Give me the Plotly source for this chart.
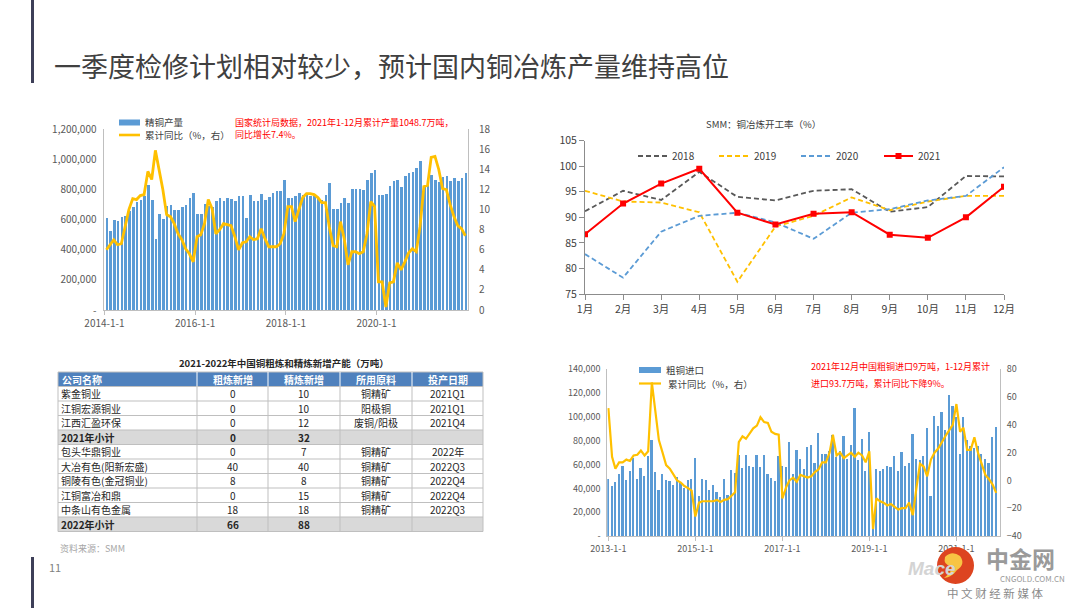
import plotly.graph_objects as go
import pandas as pd

W, H = 1080, 608
def fx(p): return p / W
def fy(p): return 1 - p / H

CJK = "Noto Sans CJK SC"
TXT = "#595959"

# ---------------- Chart 1: refined copper output (t) & cumulative YoY (%) ----------------
refined_months = pd.date_range("2014-01-01", "2021-12-01", freq="MS")
refined_2014 = [609, 520, 598, 587, 615, 624, 653, 682, 715, 731, 753, 830]
refined_2015 = [731, 469, 638, 604, 690, 697, 662, 664, 680, 697, 742, 775]
refined_2016 = [638, 638, 704, 691, 682, 724, 742, 720, 742, 737, 720, 753]
refined_2017 = [757, 610, 764, 724, 724, 766, 731, 748, 775, 786, 786, 863]
refined_2018 = [742, 742, 753, 775, 764, 764, 753, 753, 742, 731, 764, 841]
refined_2019 = [669, 669, 708, 742, 708, 801, 801, 801, 797, 863, 908, 930]
refined_2020 = [764, 764, 770, 819, 852, 859, 815, 890, 908, 912, 941, 985]
refined_2021 = [820, 868, 897, 863, 846, 881, 886, 852, 875, 852, 875, 908]
refined_output_kt = (refined_2014 + refined_2015 + refined_2016 + refined_2017 +
                     refined_2018 + refined_2019 + refined_2020 + refined_2021)
refined_output = [v * 1000 for v in refined_output_kt]

refined_yoy_2014 = [6.0, 6.5, 7.0, 6.5, 6.6, 8.3, 10.0, 11.1, 11.0, 11.4, 11.5, 13.8]
refined_yoy_2015 = [13.0, 15.9, 14.1, 12.0, 9.5, 9.3, 8.6, 7.6, 7.0, 6.1, 5.6, 4.8]
refined_yoy_2016 = [7.3, 7.5, 8.6, 11.0, 10.1, 7.6, 8.0, 8.6, 8.5, 8.4, 7.3, 6.0]
refined_yoy_2017 = [6.7, 6.8, 7.3, 7.0, 7.1, 8.1, 7.1, 6.3, 6.3, 6.3, 6.6, 7.6]
refined_yoy_2018 = [10.3, 10.3, 8.8, 10.0, 11.2, 11.6, 11.6, 11.5, 11.2, 10.7, 10.7, 8.3]
refined_yoy_2019 = [6.4, 6.3, 8.8, 7.1, 4.5, 5.8, 5.8, 5.6, 5.8, 7.6, 10.8, 10.3]
refined_yoy_2020 = [2.8, 2.8, 0.3, 2.7, 2.8, 4.7, 4.0, 4.8, 5.7, 6.1, 5.8, 8.3]
refined_yoy_2021 = [12.3, 12.4, 15.2, 15.3, 14.0, 12.1, 12.0, 10.5, 9.3, 8.4, 8.1, 7.4]
refined_yoy = (refined_yoy_2014 + refined_yoy_2015 + refined_yoy_2016 + refined_yoy_2017 +
               refined_yoy_2018 + refined_yoy_2019 + refined_yoy_2020 + refined_yoy_2021)

c1_left_ticks = [0, 200000, 400000, 600000, 800000, 1000000, 1200000]
c1_left_labels = ["-", "200,000", "400,000", "600,000", "800,000", "1,000,000", "1,200,000"]
c1_x_ticks = ["2014-01-01", "2016-01-01", "2018-01-01", "2020-01-01"]
c1_x_labels = ["2014-1-1", "2016-1-1", "2018-1-1", "2020-1-1"]

# ---------------- Chart 2: SMM smelter operating rate (%) ----------------
month_labels = ["1月", "2月", "3月", "4月", "5月", "6月", "7月", "8月", "9月", "10月", "11月", "12月"]
rate_2018 = [91.2, 95.2, 93.4, 98.9, 94.0, 93.3, 95.2, 95.5, 91.1, 92.0, 98.1, 98.0]
rate_2019 = [95.2, 93.1, 92.9, 91.0, 77.4, 88.2, 90.3, 93.9, 91.4, 93.1, 94.2, 94.2]
rate_2020 = [82.8, 78.2, 87.2, 90.3, 90.9, 89.0, 85.8, 90.9, 91.6, 93.3, 94.2, 99.8]
rate_2021 = [86.7, 92.7, 96.6, 99.5, 90.9, 88.6, 90.7, 91.0, 86.6, 86.0, 90.0, 96.0]

# ---------------- Table ----------------
table_title = "2021-2022年中国铜粗炼和精炼新增产能（万吨）"
table_headers = ["公司名称", "粗炼新增", "精炼新增", "所用原料", "投产日期"]
companies = ["紫金铜业", "江铜宏源铜业", "江西汇盈环保", "2021年小计", "包头华鼎铜业",
             "大冶有色(阳新宏盛)", "铜陵有色(金冠铜业)", "江铜富冶和鼎", "中条山有色金属", "2022年小计"]
crude_added = [0, 0, 0, 0, 0, 40, 8, 0, 18, 66]
refined_added = [10, 10, 12, 32, 7, 40, 8, 15, 18, 88]
raw_materials = ["铜精矿", "阳极铜", "废铜/阳极", "", "铜精矿", "铜精矿", "铜精矿", "铜精矿", "铜精矿", ""]
start_dates = ["2021Q1", "2021Q1", "2021Q4", "", "2022年", "2022Q3", "2022Q4", "2022Q4", "2022Q3", ""]
subtotal_rows = [3, 9]

# ---------------- Chart 4: blister copper imports (t) & cumulative YoY (%) ----------------
import_months = pd.date_range("2013-01-01", "2021-12-01", freq="MS")
blister_2013 = [48, 42, 45.5, 52, 58.5, 46.5, 54.5, 65, 48, 56.5, 50.5, 67]
blister_2014 = [80, 53.5, 38.5, 52, 47, 46, 43, 49.5, 44.5, 40, 46.5, 48]
blister_2015 = [65, 33, 47.5, 46.5, 38, 42.5, 37, 32.5, 48, 34.4, 55.5, 53]
blister_2016 = [68, 56.8, 68, 58.2, 57.4, 68, 57.4, 68, 51.8, 48.4, 46.2, 66.6]
blister_2017 = [58.8, 57.7, 78.4, 52.1, 72, 64.4, 56, 74.2, 76.4, 61, 86.2, 68.6]
blister_2018 = [69, 71, 84.5, 66, 71, 84, 64, 76.5, 107, 63.8, 81.2, 54.6]
blister_2019 = [86.8, 7, 56, 54.6, 56, 58.8, 57.4, 66.6, 54, 70, 58.2, 61]
blister_2020 = [85.7, 64.4, 63.3, 67.2, 90.4, 33, 100.2, 92.4, 103.6, 88.5, 118.4, 109.2]
blister_2021 = [99.7, 68.9, 99.7, 80, 75.6, 73.6, 75.6, 68.9, 64.4, 61, 82.9, 91]
blister_kt = (blister_2013 + blister_2014 + blister_2015 + blister_2016 + blister_2017 +
              blister_2018 + blister_2019 + blister_2020 + blister_2021)
blister_imports = [v * 1000 for v in blister_kt]

blister_yoy_2013 = [52, 17, 8.5, 13, 13, 15, 14, 18, 18.5, 21.5, 18, 21]
blister_yoy_2014 = [70.5, 50, 29, 20, 11, 8.5, 4, 0, -1.5, -4, -5.5, -7.4]
blister_yoy_2015 = [-26, -16, -15, -15, -14.5, -15, -14, -15.5, -14, -13.5, -11, -8.5]
blister_yoy_2016 = [27.5, 31.7, 30, 34, 37.5, 39.5, 45.5, 42, 41.4, 35, 33.5, 33]
blister_yoy_2017 = [-13, -5, 0, 2, -1, 4, 3, 2, 3, 6, 8, 13]
blister_yoy_2018 = [13, 20, 33, 18, 20, 16, 18, 20, 17, 20, 18, 13]
blister_yoy_2019 = [21, -35, -13, -15, -16, -18, -17, -19, -21, -20, -20, -16]
blister_yoy_2020 = [-25, -5, 12, 10, 3, 15, 20, 23, 28, 32, 36, 40]
blister_yoy_2021 = [55, 35, 38, 22, 22, 31, 20, 12, 4, 1, -3, -9]
blister_yoy = (blister_yoy_2013 + blister_yoy_2014 + blister_yoy_2015 + blister_yoy_2016 +
               blister_yoy_2017 + blister_yoy_2018 + blister_yoy_2019 + blister_yoy_2020 +
               blister_yoy_2021)

c4_left_ticks = [0, 20000, 40000, 60000, 80000, 100000, 120000, 140000]
c4_left_labels = ["-", "20,000", "40,000", "60,000", "80,000", "100,000", "120,000", "140,000"]
c4_x_ticks = ["2013-01-01", "2015-01-01", "2017-01-01", "2019-01-01", "2021-01-01"]
c4_x_labels = ["2013-1-1", "2015-1-1", "2017-1-1", "2019-1-1", "2021-1-1"]

BAR = "#5b9bd5"
GOLD = "#ffc000"
DAY = 86400000

fig = go.Figure()

# Chart 1 traces
fig.add_trace(go.Bar(x=refined_months, y=refined_output, xperiod="M1", xperiodalignment="middle",
                     width=21 * DAY, marker=dict(color=BAR, line=dict(width=0)),
                     xaxis="x", yaxis="y", showlegend=False, name="精铜产量"))
fig.add_trace(go.Scatter(x=refined_months, y=refined_yoy, xperiod="M1", xperiodalignment="middle",
                         mode="lines", line=dict(color=GOLD, width=2.8),
                         xaxis="x", yaxis="y2", showlegend=False, name="累计同比"))

# Chart 2 traces
dash = "5px,3px"
fig.add_trace(go.Scatter(x=month_labels, y=rate_2018, mode="lines",
                         line=dict(color="#595959", width=1.8, dash=dash),
                         xaxis="x3", yaxis="y3", showlegend=False, name="2018"))
fig.add_trace(go.Scatter(x=month_labels, y=rate_2019, mode="lines",
                         line=dict(color=GOLD, width=1.8, dash=dash),
                         xaxis="x3", yaxis="y3", showlegend=False, name="2019"))
fig.add_trace(go.Scatter(x=month_labels, y=rate_2020, mode="lines",
                         line=dict(color=BAR, width=1.8, dash=dash),
                         xaxis="x3", yaxis="y3", showlegend=False, name="2020"))
fig.add_trace(go.Scatter(x=month_labels, y=rate_2021, mode="lines+markers",
                         line=dict(color="#ff0000", width=2),
                         marker=dict(symbol="square", size=6, color="#ff0000"),
                         xaxis="x3", yaxis="y3", showlegend=False, name="2021"))

# Chart 4 traces
fig.add_trace(go.Bar(x=import_months, y=blister_imports, width=19 * DAY,
                     marker=dict(color=BAR, line=dict(width=0)),
                     xaxis="x4", yaxis="y4", showlegend=False, name="粗铜进口"))
fig.add_trace(go.Scatter(x=import_months, y=blister_yoy, mode="lines",
                         line=dict(color=GOLD, width=2.2),
                         xaxis="x4", yaxis="y5", showlegend=False, name="累计同比"))

axcommon = dict(showgrid=False, zeroline=False, automargin=False,
                tickfont=dict(size=10, color=TXT, family=CJK))

fig.update_layout(
    template="none",
    width=W, height=H, margin=dict(l=0, r=0, t=0, b=0, pad=0, autoexpand=False),
    paper_bgcolor="white", plot_bgcolor="rgba(0,0,0,0)",
    font=dict(family=CJK, color=TXT),
    bargap=0, showlegend=False,
    xaxis=dict(axcommon, type="date", domain=[fx(103.5), fx(468)], anchor="y",
               range=["2013-12-24", "2022-01-07"], tickvals=c1_x_ticks, ticktext=c1_x_labels,
               showline=True, linecolor="#bfbfbf", ticks="outside", ticklen=4, tickcolor="#bfbfbf"),
    yaxis=dict(axcommon, domain=[fy(310), fy(129.3)], anchor="x", range=[0, 1200000],
               tickvals=c1_left_ticks, ticktext=c1_left_labels, showline=True, linecolor="#bfbfbf",
               ticks="", ticklabelstandoff=4),
    yaxis2=dict(axcommon, overlaying="y", side="right", anchor="x", range=[0, 18], dtick=2,
                showline=True, linecolor="#bfbfbf", ticks="", ticklabelstandoff=8),
    xaxis3=dict(axcommon, type="category", domain=[fx(585), fx(1004)], anchor="y3", range=[0, 11],
                showline=True, linecolor="#8c8c8c", ticks="outside", ticklen=5, tickcolor="#8c8c8c",
                tickfont=dict(size=10.5, color="#404040", family=CJK)),
    yaxis3=dict(axcommon, domain=[fy(294), fy(140.7)], anchor="x3", range=[75, 105], dtick=5,
                showline=True, linecolor="#8c8c8c", ticks="outside", ticklen=5, tickcolor="#8c8c8c",
                tickfont=dict(size=10.5, color="#404040", family=CJK)),
    xaxis4=dict(axcommon, type="date", domain=[fx(607.3), fx(1000)], anchor="y4",
                range=["2012-12-23", "2022-01-02"], tickvals=c4_x_ticks, ticktext=c4_x_labels,
                showline=True, linecolor="#bfbfbf", ticks="outside", ticklen=4, tickcolor="#bfbfbf",
                tickfont=dict(size=9, color=TXT, family=CJK)),
    yaxis4=dict(axcommon, domain=[fy(536), fy(369.3)], anchor="x4", range=[0, 140000],
                tickvals=c4_left_ticks, ticktext=c4_left_labels, showline=True, linecolor="#bfbfbf",
                ticks="", ticklabelstandoff=4, tickfont=dict(size=9, color=TXT, family=CJK)),
    yaxis5=dict(axcommon, overlaying="y4", side="right", anchor="x4", range=[-40, 80], dtick=20,
                showline=True, linecolor="#bfbfbf", ticks="", ticklabelstandoff=4,
                tickfont=dict(size=9, color=TXT, family=CJK)),
)

shapes = []
ann = []

def text(x, y, s, size=10, color=TXT, xanchor="left", yanchor="middle", bold=False, family=CJK, **kw):
    ann.append(dict(x=fx(x), y=fy(y), xref="paper", yref="paper", text=f"<b>{s}</b>" if bold else s,
                    showarrow=False, xanchor=xanchor, yanchor=yanchor,
                    font=dict(size=size, color=color, family=family), **kw))

def rect(x0, y0, x1, y1, color, layer="above", line=None):
    shapes.append(dict(type="rect", xref="paper", yref="paper", x0=fx(x0), x1=fx(x1),
                       y0=fy(y1), y1=fy(y0), fillcolor=color,
                       line=line if line else dict(width=0), layer=layer))

def seg(x0, y0, x1, y1, color, width=1, dash=None, layer="above"):
    shapes.append(dict(type="line", xref="paper", yref="paper", x0=fx(x0), x1=fx(x1),
                       y0=fy(y0), y1=fy(y1), line=dict(color=color, width=width, dash=dash),
                       layer=layer))

def hline(x0, x1, y, color, width=2, dash=None):
    seg(x0, y, x1, y, color, width, dash)

# Slide decorations
rect(31, 0, 34, 83, "#3d3f58")
rect(31, 557, 34, 608, "#3d3f58")
text(52, 66, "一季度检修计划相对较少，预计国内铜冶炼产量维持高位", size=27, color="#404040")
text(47, 567, "11", size=11, color="#7f7f7f")

# Chart 1 legend & note
rect(119, 119.5, 140, 125.5, BAR)
text(143, 122, "精铜产量", size=9.5, color="#404040")
hline(119, 140, 135, GOLD, 2.6)
text(143, 135, "累计同比（%，右）", size=9.5, color="#404040")
text(233, 123, "国家统计局数据，2021年1-12月累计产量1048.7万吨，", size=9, color="#ff0000")
text(233, 134, "同比增长7.4%。", size=9, color="#ff0000")

# Chart 2 title & legend
text(763, 124, "SMM：铜冶炼开工率（%）", size=9.5, color="#404040", xanchor="center")
hline(638, 667, 156, "#595959", 1.8, dash)
text(670, 156, "2018", size=10, color="#404040")
hline(719, 749, 156, GOLD, 1.8, dash)
text(752, 156, "2019", size=10, color="#404040")
hline(801, 831, 156, BAR, 1.8, dash)
text(834, 156, "2020", size=10, color="#404040")
hline(884, 913, 156, "#ff0000", 2)
rect(895.5, 153, 901.5, 159, "#ff0000")
text(916, 156, "2021", size=10, color="#404040")

# Table (drawn from the table lists)
col_edges = [58, 197, 268, 340, 412, 483]
row_h = 14.5
top = 372
n_rows = len(companies)
columns = [companies, crude_added, refined_added, raw_materials, start_dates]
rect(col_edges[0], top, col_edges[-1], top + row_h, "#4f81bd", layer="below")
for r in subtotal_rows:
    y0 = top + row_h * (r + 1)
    rect(col_edges[0], y0, col_edges[-1], y0 + row_h, "#d9d9d9", layer="below")
bottom = top + row_h * (n_rows + 1)
for k in range(n_rows + 2):
    yk = top + row_h * k
    seg(col_edges[0], yk, col_edges[-1], yk, "#bfbfbf", 1)
for c, xe in enumerate(col_edges):
    seg(xe, top, xe, top + row_h, "#ffffff" if 0 < c < len(col_edges) - 1 else "#bfbfbf", 1)
    seg(xe, top + row_h, xe, bottom, "#bfbfbf", 1)
for c, h in enumerate(table_headers):
    xa = col_edges[c] + 2 if c == 0 else (col_edges[c] + col_edges[c + 1]) / 2
    text(xa, top + row_h / 2, h, size=10, color="#ffffff", bold=True,
         xanchor="left" if c == 0 else "center")
for c, col in enumerate(columns):
    for r, v in enumerate(col):
        s = str(v)
        if not s:
            continue
        xa = col_edges[c] + 1 if c == 0 else (col_edges[c] + col_edges[c + 1]) / 2
        text(xa, top + row_h * (r + 1.5), s, size=10, color="#262626", bold=r in subtotal_rows,
             xanchor="left" if c == 0 else "center")

text(284, 363, table_title, size=9.5, color="#262626", xanchor="center", bold=True)
text(58, 548, "资料来源：SMM", size=9, color="#a6a6a6")

# Chart 4 legend & note
rect(639, 367, 661, 373, BAR)
text(664, 370, "粗铜进口", size=9.5, color="#404040")
hline(639, 661, 383.5, GOLD, 2.2)
text(666, 383.5, "累计同比（%，右）", size=9.5, color="#404040")
text(809, 367, "2021年12月中国粗铜进口9万吨，1-12月累计", size=9, color="#ff0000")
text(809, 383, "进口93.7万吨，累计同比下降9%。", size=9, color="#ff0000")

# Watermark
text(932, 568, "<i>Mace</i>", size=19, color="#d4d4d4", xanchor="center", bold=True, family="Liberation Sans")
shapes.append(dict(type="circle", xref="paper", yref="paper", x0=fx(937), x1=fx(974),
                   y0=fy(584), y1=fy(547), fillcolor="#dd4420", line=dict(width=0), layer="above"))
shapes.append(dict(type="path", xref="paper", yref="paper",
                   path=(f"M {fx(945)},{fy(557)} Q {fx(952)},{fy(550)} {fx(960)},{fy(556)} "
                         f"Q {fx(966)},{fy(564)} {fx(957)},{fy(570)} Q {fx(952)},{fy(577)} {fx(944)},{fy(578)} "
                         f"Q {fx(953)},{fy(571)} {fx(951)},{fy(566)} Q {fx(943)},{fy(565)} {fx(945)},{fy(557)} Z"),
                   fillcolor="#f8c443", line=dict(width=0), layer="above"))
text(1020, 558, "中金网", size=23, color="#9a9a9a", xanchor="center", bold=True)
text(1032, 578, "CNGOLD.COM.CN", size=8, color="#9a9a9a", xanchor="center")
text(995, 593, "中 文 财 经 新 媒 体", size=11.5, color="#8a8a8a", xanchor="center")

fig.update_layout(shapes=shapes, annotations=ann)
fig.write_html("out.html", config={"displayModeBar": False},
               post_script="document.body.style.margin='0px';document.body.style.overflow='hidden';")
